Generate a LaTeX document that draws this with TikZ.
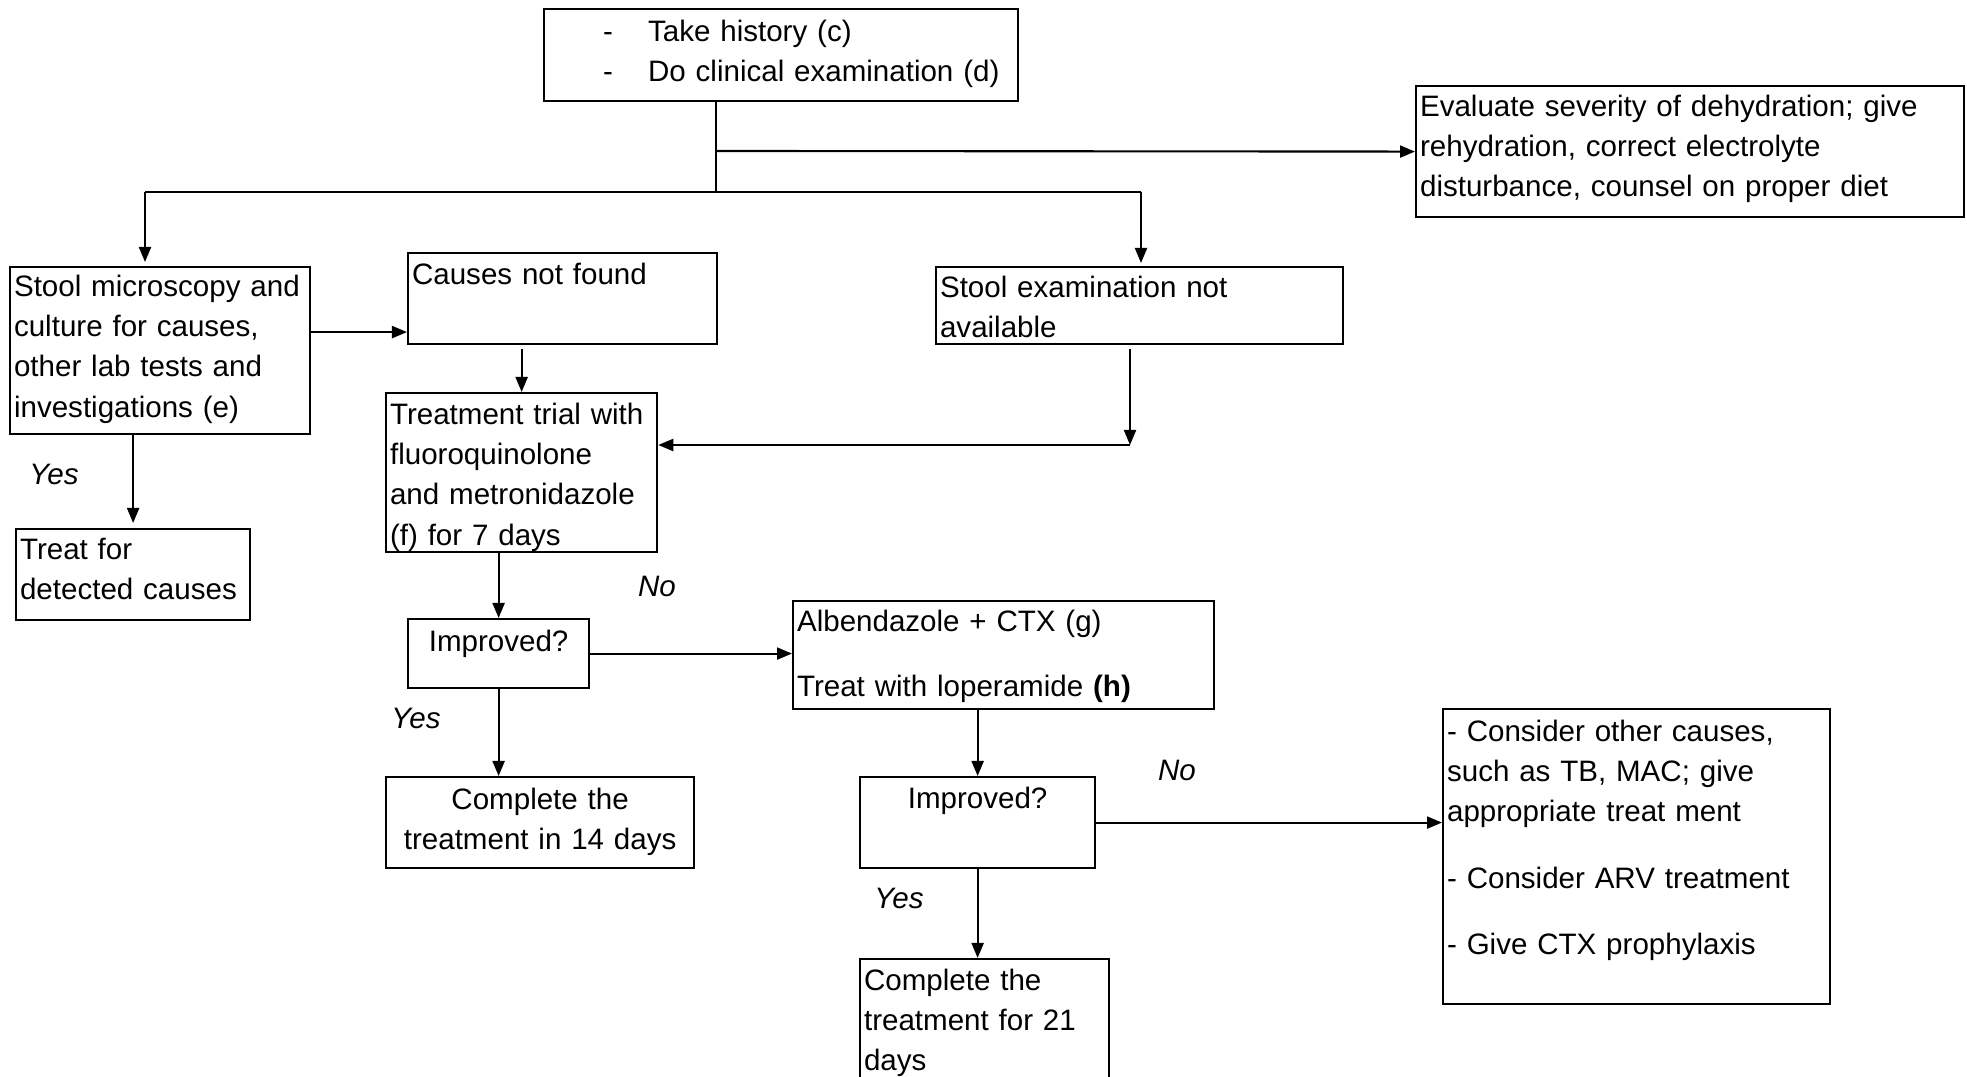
\documentclass[tikz,border=0pt]{standalone}
\usepackage{fontspec}
\setmainfont{Liberation Sans}
\usetikzlibrary{arrows.meta, positioning}
\tikzstyle{box}   = [rectangle, draw=black, line width=0.6pt, anchor=north west, align=left,
                     inner xsep=0.04cm, inner ysep=0pt, font=\fontsize{8.4}{11.5}\selectfont]
\tikzstyle{cbox}  = [box, align=center]
\tikzstyle{lbl}   = [inner sep=0pt, font=\fontsize{8.4}{11.5}\selectfont\itshape]
\tikzstyle{link}  = [line width=0.6pt]
\tikzstyle{arrow} = [-{Triangle[length=0.15cm, width=0.12cm]}, line width=0.6pt]

\begin{document}
\begin{tikzpicture}[x=0.01cm, y=-0.01cm]
  \useasboundingbox (0,0) rectangle (1967,1077);

  % boxes
  \node (history)  [box, text width=4.66cm, text height=0.32cm, text depth=0.60cm] at (543,8)
    {\hspace*{0.55cm}\makebox[0.45cm][l]{-}Take history (c)\\
     \hspace*{0.55cm}\makebox[0.45cm][l]{-}Do clinical examination (d)};
  \node (dehyd)    [box, text width=5.40cm, text height=0.30cm, text depth=1.01cm] at (1415,85)
    {Evaluate severity of dehydration; give\\ rehydration, correct electrolyte\\ disturbance, counsel on proper diet};
  \node (micro)    [box, text width=2.92cm, text height=0.29cm, text depth=1.38cm] at (9,266)
    {Stool microscopy and\\ culture for causes,\\ other lab tests and\\ investigations (e)};
  \node (causes)   [box, text width=3.01cm, text height=0.31cm, text depth=0.60cm] at (407,252)
    {Causes not found};
  \node (noexam)   [box, text width=3.99cm, text height=0.30cm, text depth=0.47cm] at (935,266)
    {Stool examination not\\ available};
  \node (trial)    [box, text width=2.63cm, text height=0.31cm, text depth=1.28cm] at (385,392)
    {Treatment trial with\\ fluoroquinolone\\ and metronidazole\\ (f) for 7 days};
  \node (treatfor) [box, text width=2.26cm, text height=0.30cm, text depth=0.61cm] at (15,528)
    {Treat for\\ detected causes};
  \node (imp1)     [cbox, text width=1.73cm, text height=0.32cm, text depth=0.37cm] at (407,618)
    {Improved?};
  \node (alb)      [box, text width=4.13cm, text height=0.30cm, text depth=0.78cm] at (792,600)
    {Albendazole + CTX (g)\\[0.25cm] Treat with loperamide \textbf{(h)}};
  \node (done14)   [cbox, text width=3.00cm, text height=0.32cm, text depth=0.59cm] at (385,776)
    {Complete the\\ treatment in 14 days};
  \node (imp2)     [cbox, text width=2.27cm, text height=0.31cm, text depth=0.60cm] at (859,776)
    {Improved?};
  \node (done21)   [box, text width=2.41cm, text height=0.31cm, text depth=1.06cm] at (859,958)
    {Complete the\\ treatment for 21\\ days};
  \node (consider) [box, text width=3.79cm, text height=0.32cm, text depth=2.63cm] at (1442,708)
    {- Consider other causes,\\ such as TB, MAC; give\\ appropriate treat ment\\[0.26cm]
     - Consider ARV treatment\\[0.26cm] - Give CTX prophylaxis};

  % labels
  \node (yes1) [lbl] at (54,474)  {Yes};
  \node (no1)  [lbl] at (657,586) {No};
  \node (yes2) [lbl] at (416,718) {Yes};
  \node (no2)  [lbl] at (1177,770) {No};
  \node (yes3) [lbl] at (899,898) {Yes};

  % joints
  \coordinate (split)     at (716,192);
  \coordinate (branch)    at (716,151);
  \coordinate (leftdrop)  at (145,192);
  \coordinate (rightdrop) at (1141,192);
  \coordinate (merge)     at (1130,445);

  % connectors
  \draw [link]  (history.south -| split) -- (split);
  \draw [arrow] (branch) -- (dehyd.west);
  \draw [link]  (leftdrop) -- (rightdrop);
  \draw [arrow] (leftdrop) -- ([yshift=0.04cm]leftdrop |- micro.north);
  \draw [arrow] (rightdrop) -- ([yshift=0.03cm]rightdrop |- noexam.north);
  \draw [arrow] ([yshift=0.185cm]micro.east) -- ([yshift=0.185cm]micro.east -| causes.west);
  \draw [arrow] ([yshift=-0.04cm]causes.south -| trial.north) -- (trial.north);
  \draw [arrow] ([yshift=-0.04cm]noexam.south -| merge) -- (merge);
  \draw [arrow] (merge) -- (merge -| trial.east);
  \draw [arrow] (micro.south -| treatfor.north) -- ([yshift=0.05cm]treatfor.north);
  \draw [arrow] (trial.south -| imp1.north) -- (imp1.north);
  \draw [arrow] (imp1.east) -- (imp1.east -| alb.west);
  \draw [arrow] (imp1.south) -- (imp1.south |- done14.north);
  \draw [arrow] (alb.south -| imp2.north) -- (imp2.north);
  \draw [arrow] (imp2.south) -- (imp2.south |- done21.north);
  \draw [arrow] (imp2.east) -- (imp2.east -| consider.west);
\end{tikzpicture}
\end{document}
